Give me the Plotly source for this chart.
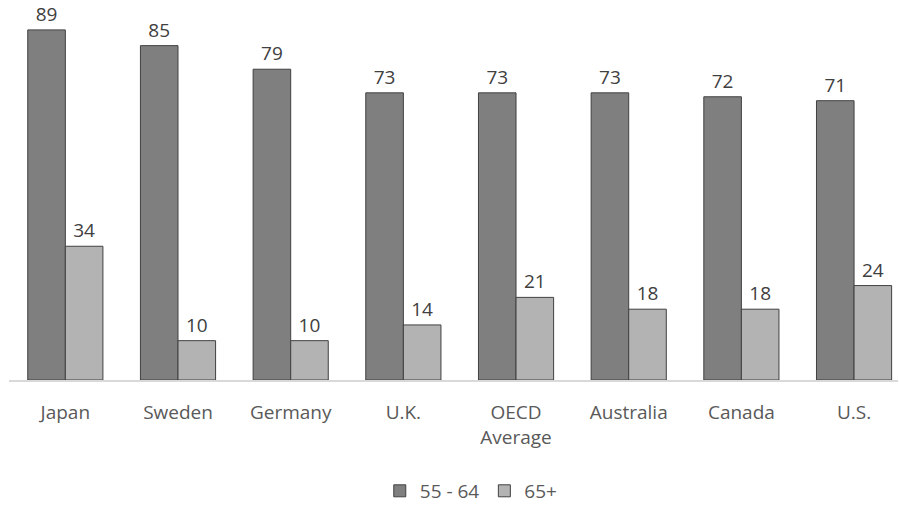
import plotly.graph_objects as go

countries = ["Japan", "Sweden", "Germany", "U.K.", "OECD<br>Average", "Australia", "Canada", "U.S."]
age_55_64 = [89, 85, 79, 73, 73, 73, 72, 71]
age_65_plus = [34, 10, 10, 14, 21, 18, 18, 24]

font_family = "Open Sans, DejaVu Sans, sans-serif"
text_color = "#595959"
label_color = "#404040"

fig = go.Figure()
fig.add_trace(go.Bar(
    x=countries, y=age_55_64, name="55 - 64",
    marker=dict(color="#7f7f7f", line=dict(color="#404040", width=1)),
    text=age_55_64, textposition="outside", cliponaxis=False,
    textfont=dict(size=19, color=label_color, family=font_family),
))
fig.add_trace(go.Bar(
    x=countries, y=age_65_plus, name="65+",
    marker=dict(color="#b3b3b3", line=dict(color="#404040", width=1)),
    text=age_65_plus, textposition="outside", cliponaxis=False,
    textfont=dict(size=19, color=label_color, family=font_family),
))

fig.update_layout(
    width=899, height=510,
    margin=dict(l=9, r=1, t=0, b=127),
    paper_bgcolor="white", plot_bgcolor="white",
    barmode="group", bargap=0.333, bargroupgap=0,
    font=dict(family=font_family, size=19, color=text_color),
    showlegend=True,
    legend=dict(orientation="h", x=0.52, xanchor="center", y=-0.292, yanchor="middle",
                font=dict(size=19, color=text_color), itemwidth=30, tracegroupgap=0),
    xaxis=dict(range=[-0.5, 7.39], showline=True, linecolor="#d9d9d9", linewidth=2,
               ticks="", ticklabelstandoff=14,
               tickfont=dict(size=19, color=text_color), fixedrange=True),
    yaxis=dict(range=[0, 96.6], visible=False, showgrid=False, zeroline=False, fixedrange=True),
)
fig.update_traces(hoverinfo="skip")

fig.write_html("out.html")
